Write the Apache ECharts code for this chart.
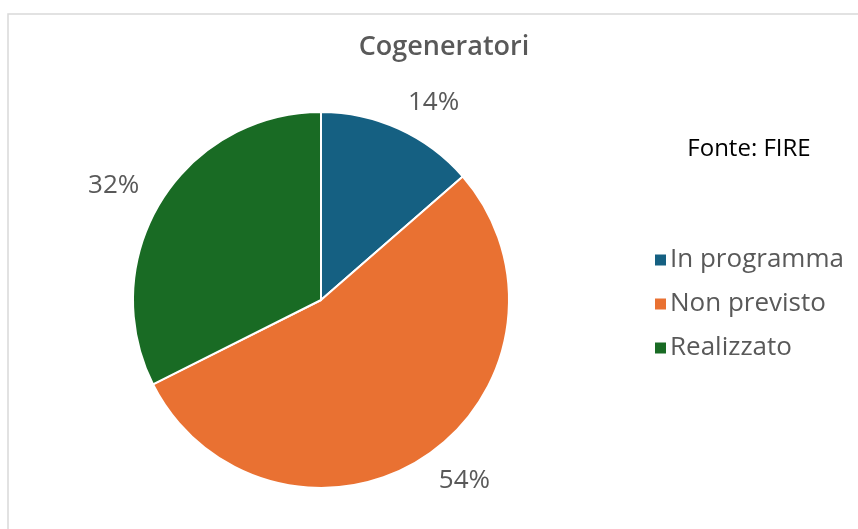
<!DOCTYPE html>
<html>
<head>
<meta charset="utf-8">
<script src="https://cdn.jsdelivr.net/npm/echarts@6/dist/echarts.min.js"></script>
<style>
  html, body { margin: 0; padding: 0; background: #fff; }
  #chart { width: 858px; height: 529px; }
</style>
</head>
<body>
<div id="chart"></div>
<script>
// data
var categories = ["In programma", "Non previsto", "Realizzato"]
var shares = [13.6, 54.0, 32.4]
var colors = ["#156082", "#e97132", "#196b24"]

var font = "'Open Sans', 'Noto Sans', sans-serif"
var chart = echarts.init(document.getElementById("chart"))

chart.setOption({
  animation: false,
  color: colors,
  title: [
    {
      text: "Cogeneratori",
      left: 439, top: 29, textAlign: "center",
      textStyle: {color: "#595959", fontSize: 27, fontWeight: 600, fontFamily: font}
    },
    {
      text: "Fonte: FIRE",
      left: 744, top: 132, textAlign: "center",
      textStyle: {color: "#000", fontSize: 24, fontWeight: "normal", fontFamily: font}
    }
  ],
  legend: {
    orient: "vertical",
    left: 648, top: 240,
    itemWidth: 13, itemHeight: 13, itemGap: 14,
    icon: "rect",
    data: categories,
    textStyle: {color: "#595959", fontSize: 26, lineHeight: 30, fontFamily: font, padding: [0, 0, 0, -2]}
  },
  graphic: [{
    type: "rect",
    shape: {x: 8, y: 14, width: 870, height: 540},
    style: {fill: "none", stroke: "#d9d9d9", lineWidth: 1.5},
    silent: true
  }],
  series: [{
    type: "pie",
    center: [321, 300],
    radius: 188,
    startAngle: 90,
    clockwise: true,
    itemStyle: {borderColor: "#fff", borderWidth: 2},
    label: {
      show: true,
      position: "outside",
      fontSize: 26,
      color: "#595959",
      fontFamily: font,
      distanceToLabelLine: -3,
      formatter: function (p) { return Math.round(p.percent) + "%" }
    },
    labelLine: {show: false, length: 29, length2: 0},
    data: categories.map(function (c, i) { return {name: c, value: shares[i]} })
  }]
})
</script>
</body>
</html>
